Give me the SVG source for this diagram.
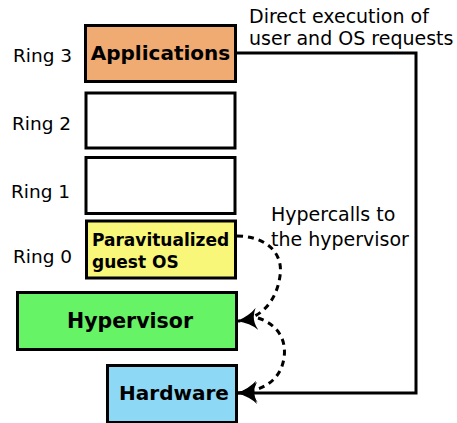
<svg xmlns="http://www.w3.org/2000/svg" width="457" height="423" viewBox="0 0 457 423">
  <style>
    .box { stroke: #000; stroke-width: 3; }
    .ring { font-family: "DejaVu Sans", sans-serif; font-size: 18.5px; fill: #000; }
    .lbl { font-family: "DejaVu Sans", sans-serif; font-weight: bold; fill: #000; }
    .note { font-family: "DejaVu Sans", sans-serif; font-size: 19px; fill: #000; }
    .wire { fill: none; stroke: #000; stroke-width: 3; }
    .dash { fill: none; stroke: #000; stroke-width: 3; stroke-dasharray: 6 5; }
  </style>
  <defs>
    <marker id="head" viewBox="0 0 20 22" refX="19" refY="11" markerWidth="20" markerHeight="22" markerUnits="userSpaceOnUse" orient="auto">
      <path d="M0,0 Q7,7 20,11 Q7,15 0,22 Q6,11 0,0 Z" fill="#000"/>
    </marker>
  </defs>
  <rect width="457" height="423" fill="#fff"/>

  <text class="ring" x="13" y="62">Ring 3</text>
  <text class="ring" x="12" y="130">Ring 2</text>
  <text class="ring" x="11" y="198">Ring 1</text>
  <text class="ring" x="13" y="263">Ring 0</text>

  <g id="applications">
    <rect class="box" x="85.5" y="25.5" width="150" height="56" fill="#f0ab72"/>
    <text class="lbl" x="160.5" y="60" font-size="20" text-anchor="middle">Applications</text>
  </g>
  <g id="ring2">
    <rect class="box" x="86" y="93" width="149" height="55" fill="#fff"/>
  </g>
  <g id="ring1">
    <rect class="box" x="86" y="157.5" width="149" height="56" fill="#fff"/>
  </g>
  <g id="guest-os">
    <rect class="box" x="86.5" y="221" width="149" height="57" fill="#f8f77a"/>
    <text class="lbl" x="92" y="246" font-size="17">Paravitualized</text>
    <text class="lbl" x="92" y="268" font-size="17">guest OS</text>
  </g>
  <g id="hypervisor">
    <rect class="box" x="17.5" y="292.5" width="219" height="57" fill="#66f366"/>
    <text class="lbl" x="130" y="328" font-size="20.5" text-anchor="middle">Hypervisor</text>
  </g>
  <g id="hardware">
    <rect class="box" x="107.5" y="365.5" width="129" height="57" fill="#8cd8f5"/>
    <text class="lbl" x="174" y="400" font-size="20" text-anchor="middle">Hardware</text>
  </g>

  <g id="connectors">
    <path class="wire" d="M237,53 H416 V393 H238" marker-end="url(#head)"/>
    <path class="dash" d="M237,236 C262,236 284,250 280,276 C277,298 264,318 238,321" marker-end="url(#head)"/>
    <path class="dash" d="M258,318 C276,324 287,338 284,358 C281,378 266,391 238,393" marker-end="url(#head)"/>
  </g>

  <text class="note" x="249" y="23">Direct execution of</text>
  <text class="note" x="249" y="45">user and OS requests</text>
  <text class="note" x="271" y="221">Hypercalls to</text>
  <text class="note" x="271" y="246">the hypervisor</text>
</svg>
